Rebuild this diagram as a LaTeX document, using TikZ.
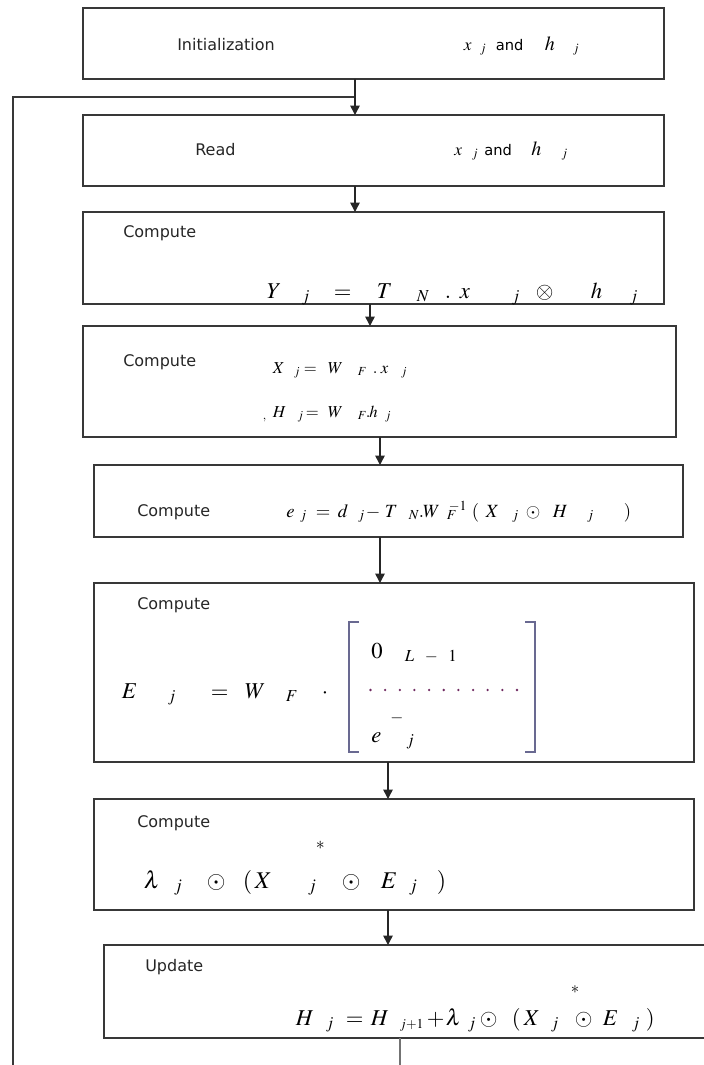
\documentclass[tikz,border=0pt]{standalone}
\usepackage{mathptmx}
\usepackage[no-math]{fontspec}
\newfontfamily\labf{DejaVu Sans}
\usetikzlibrary{arrows.meta,fit}
\newdimen\pxu \pxu=0.75pt
\newcommand\tk[2]{\makebox[0pt][l]{\hspace*{#1\pxu}#2}}
\definecolor{brk}{RGB}{105,105,145}
\definecolor{dotc}{RGB}{110,40,95}
\begin{document}
\begin{tikzpicture}[x=0.75pt,y=-0.75pt,
  box/.style={draw=black!78, line width=1.1pt, inner sep=0pt, outer sep=0pt},
  lab/.style={font=\labf\fontsize{12}{14}\selectfont, anchor=west, inner sep=0pt, text=black!85},
  fm/.style={anchor=base west, inner sep=0pt},
  arr/.style={draw=black!85, line width=1.1pt, -{Triangle[width=7pt,length=7pt]}},
  ln/.style={draw=black!78, line width=1.1pt}]
\useasboundingbox (0,0) rectangle (704,1065);
\begin{scope}
\clip (0,0) rectangle (704,1065);
% boxes
\node[box, fit={(83,8) (664,79)}] (b1) {};
\node[box, fit={(83,115) (664,186)}] (b2) {};
\node[box, fit={(83,212) (664,304)}] (b3) {};
\node[box, fit={(83,326) (676,437)}] (b4) {};
\node[box, fit={(94,465) (683,537)}] (b5) {};
\node[box, fit={(94,583) (694,762)}] (b6) {};
\node[box, fit={(94,799) (694,910)}] (b7) {};
\node[box, fit={(104,945) (715,1038)}] (b8) {};
% connector columns
\coordinate (xa) at (355,0);
\coordinate (xb) at (370,0);
\coordinate (xc) at (380,0);
\coordinate (xd) at (388,0);
\coordinate (bot) at (400,1065);
\coordinate (fb0) at (13,1065);
\coordinate (fbj) at (355,97);
\draw[ln] (fb0) |- (fbj);
\draw[arr] (b1.south -| xa) -- (b2.north -| xa);
\draw[arr] (b2.south -| xa) -- (b3.north -| xa);
\draw[arr] (b3.south -| xb) -- (b4.north -| xb);
\draw[arr] (b4.south -| xc) -- (b5.north -| xc);
\draw[arr] (b5.south -| xc) -- (b6.north -| xc);
\draw[arr] (b6.south -| xd) -- (b7.north -| xd);
\draw[arr] (b7.south -| xd) -- (b8.north -| xd);
\draw[ln, draw=black!55] (b8.south -| bot) -- (bot);
% box 1
\node[lab] (t1) at (177,45) {Initialization};
\node[fm] (f1) at (463,50) {\fontsize{13}{15}\selectfont\tk{0}{$x$}\tk{16}{$_j$}\tk{32}{\labf\fontsize{11}{13}\selectfont and}\tk{81}{\fontsize{15}{17}\selectfont$h$}\tk{109}{$_j$}};
% box 2
\node[lab] (t2) at (195,150) {Read};
\node[fm] (f2) at (453.5,155) {\fontsize{13}{15}\selectfont\tk{0}{$x$}\tk{17.5}{$_j$}\tk{30}{\labf\fontsize{11}{13}\selectfont and}\tk{77}{\fontsize{15}{17}\selectfont$h$}\tk{107}{$_j$}};
% box 3
\node[lab] (t3) at (123,233) {Compute};
\node[fm] (f3) at (266,298) {\fontsize{17}{20}\selectfont\tk{0}{$Y$}\tk{35}{$_j$}\tk{67}{$=$}\tk{110}{$T$}\tk{150}{$_N$}\tk{178}{$.$}\tk{193}{$x$}\tk{245}{$_j$}\tk{269}{$\otimes$}\tk{324}{$h$}\tk{363}{$_j$}};
% box 4
\node[lab] (t4) at (123,362) {Compute};
\node[fm] (f4a) at (272,373) {\fontsize{12.5}{15}\selectfont\tk{0}{$X$}\tk{21}{$_j$}\tk{31}{$=$}\tk{55}{$W$}\tk{85}{$_F$}\tk{100}{$.$}\tk{108}{$x$}\tk{128}{$_j$}};
\node[fm] (f4b) at (272,417) {\fontsize{12.5}{15}\selectfont\tk{-10}{$_{,}$}\tk{0}{$H$}\tk{24.6}{$_j$}\tk{33}{$=$}\tk{55}{$W$}\tk{85}{$_F$}\tk{93}{$.$}\tk{96.5}{$h$}\tk{112}{$_j$}};
% box 5
\node[lab] (t5) at (137,512) {Compute};
\node[fm] (f5) at (285,517) {\fontsize{14}{17}\selectfont\tk{0.5}{$e$}\tk{14}{$_j$}\tk{30}{$=$}\tk{52}{$d$}\tk{72}{$_j$}\tk{80}{$-$}\tk{99}{$T$}\tk{123}{$_N$}\tk{133}{$.$}\tk{137}{$W$}\tk{163}{$^{-1}$}\tk{161}{$_F$}\tk{186}{$($}\tk{200}{$X$}\tk{226}{$_j$}\tk{240}{$\odot$}\tk{267}{$H$}\tk{301}{$_j$}\tk{338}{$)$}};
% box 6
\node[lab] (t6) at (137,605) {Compute};
\node[fm] (f6) at (121,698) {\fontsize{17}{20}\selectfont\tk{0}{$E$}\tk{46}{$_j$}\tk{89}{$=$}\tk{123}{$W$}\tk{164}{$_F$}\tk{200}{$\cdot$}};
\draw[brk, line width=0.8pt] (359,622) -- (349,622) -- (349,752) -- (359,752);
\draw[brk, line width=0.8pt] (525,622) -- (535,622) -- (535,752) -- (525,752);
\node[fm] (r1) at (370.5,658) {\fontsize{17}{20}\selectfont\tk{0}{$0$}\tk{33.5}{$_L$}\tk{53.5}{$_-$}\tk{77}{$_1$}};
\foreach \i in {0,...,10} \fill[dotc] (370.5+\i*14.65,690) circle[radius=0.95pt];
\node[fm] (r3) at (370.5,742) {\fontsize{17}{20}\selectfont\tk{0}{$e$}\tk{19}{\raisebox{15pt}{$\scriptstyle -$}}\tk{35}{$_j$}};
% box 7
\node[lab] (t7) at (137,823) {Compute};
\node[fm] (f7) at (143,888) {\fontsize{18}{21}\selectfont\tk{0}{$\lambda$}\tk{30}{$_j$}\tk{63}{$\odot$}\tk{99}{$($}\tk{111}{$X$}\tk{164}{$_j$}\tk{172}{\raisebox{29pt}{$\scriptstyle *$}}\tk{198}{$\odot$}\tk{237}{$E$}\tk{265}{$_j$}\tk{293}{$)$}};
% box 8
\node[lab] (t8) at (145,967) {Update};
\node[fm] (f8) at (295,1025) {\fontsize{17}{20}\selectfont\tk{0}{$H$}\tk{30}{$_j$}\tk{50}{$=$}\tk{75}{$H$}\tk{104}{$_{\scriptscriptstyle j+1}$}\tk{131}{$+$}\tk{150}{$\lambda$}\tk{172}{$_j$}\tk{184}{$\odot$}\tk{216}{$($}\tk{228}{$X$}\tk{255}{$_j$}\tk{275}{\raisebox{24pt}{$\scriptstyle *$}}\tk{279}{$\odot$}\tk{307}{$E$}\tk{336}{$_j$}\tk{350}{$)$}};
\end{scope}
\end{tikzpicture}
\end{document}
